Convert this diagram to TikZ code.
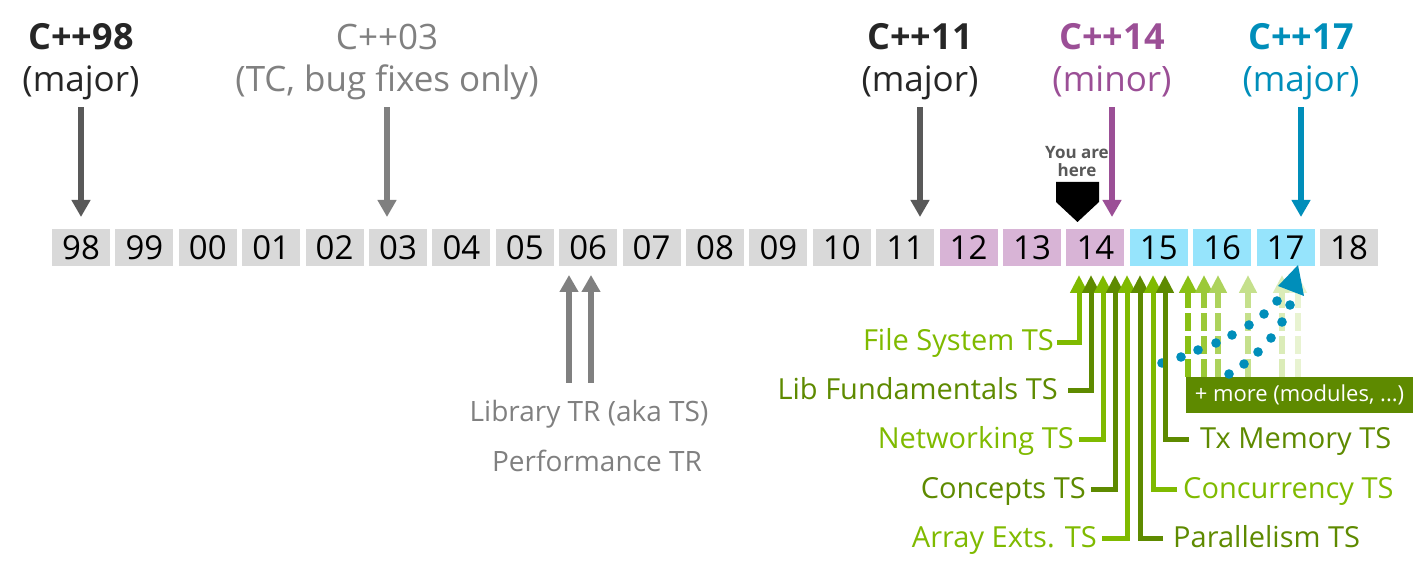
\documentclass[tikz,border=0pt]{standalone}
\usepackage{fontspec}
\setmainfont{Open Sans}
\usetikzlibrary{arrows.meta}
\definecolor{dgray}{RGB}{89,89,89}
\definecolor{mgray}{RGB}{128,128,128}
\definecolor{txtblack}{RGB}{38,38,38}
\definecolor{boxgray}{RGB}{217,217,217}
\definecolor{boxpink}{RGB}{216,180,214}
\definecolor{boxcyan}{RGB}{150,228,252}
\definecolor{purp}{RGB}{155,79,150}
\definecolor{cblue}{RGB}{0,142,186}
\definecolor{lgreen}{RGB}{127,186,0}
\definecolor{dgreen}{RGB}{94,138,0}
\begin{document}
\begin{tikzpicture}[x=1pt,y=-1pt,
  hdr/.style={font=\fontsize{35}{40}\selectfont, anchor=base, inner sep=0pt, text depth=9pt},
  hdrb/.style={hdr, font=\fontsize{36}{40}\selectfont\bfseries},
  yr/.style={minimum width=58pt, minimum height=37pt, inner sep=0pt,
    font=\fontsize{33}{36}\selectfont, text height=24pt, text depth=0pt},
  bigarrow/.style={line width=6pt, -{Triangle[length=17pt,width=18pt]}},
  ts/.style={font=\fontsize{29}{32}\selectfont, inner sep=0pt, text height=22pt, text depth=4pt},
  tsarrow/.style={line width=5pt, -{Triangle[length=18pt,width=17pt]}},
  dasharrow/.style={line width=6pt, dash pattern=on 18pt off 5pt, -{Triangle[length=18pt,width=17pt]}},
  blob/.style={fill=cblue},
]
\useasboundingbox (0,0) rectangle (1419,577);

% year boxes
\foreach \lab [count=\i from 0] in {98,99,00,01,02,03,04,05,06,07,08,09,10,11,12,13,14,15,16,17,18} {
  \ifnum\i<14 \def\fc{boxgray}\else\ifnum\i<17 \def\fc{boxpink}\else\ifnum\i<20 \def\fc{boxcyan}\else\def\fc{boxgray}\fi\fi\fi
  \node[yr, fill=\fc] (b\lab) at ({81+63.4*\i},247.5) {\lab};
}

% headers
\node[hdrb, text=txtblack] (c98) at (81,50) {C++98};
\node[hdr, text=txtblack] (m98) at (81,92) {(major)};
\node[hdr, text=mgray] (c03) at (387,50) {C++03};
\node[hdr, text=mgray] (m03) at (387,92) {(TC, bug fixes only)};
\node[hdrb, text=txtblack] (c11) at (920,50) {C++11};
\node[hdr, text=txtblack] (m11) at (920,92) {(major)};
\node[hdrb, text=purp] (c14) at (1112,50) {C++14};
\node[hdr, text=purp] (m14) at (1112,92) {(minor)};
\node[hdrb, text=cblue] (c17) at (1301,50) {C++17};
\node[hdr, text=cblue] (m17) at (1301,92) {(major)};

\coordinate (e98) at (81,217);
\coordinate (e03) at (387,217);
\coordinate (e11) at (920,217);
\coordinate (e14) at (1112,217);
\coordinate (e17) at (1301,217);

% you are here
\node[font=\fontsize{17}{18}\selectfont\bfseries, text=dgray, align=center, inner sep=0pt] (yah) at (1077,162) {You are\\here};
\fill[black] (1056,182) -- (1099,182) -- (1099,202) -- (1077.5,222) -- (1056,202) -- cycle;

\draw[bigarrow, dgray, shorten <=6pt] (m98.south) -- (e98);
\draw[bigarrow, mgray, shorten <=6pt] (m03.south) -- (e03);
\draw[bigarrow, dgray, shorten <=6pt] (m11.south) -- (e11);
\draw[bigarrow, purp, shorten <=6pt] (m14.south) -- (e14);
\draw[bigarrow, cblue, shorten <=6pt] (m17.south) -- (e17);

% library TR
\node[font=\fontsize{28}{30}\selectfont, text=mgray, anchor=base, inner sep=0pt] (lib) at (589,421) {Library TR (aka TS)};
\node[font=\fontsize{28}{30}\selectfont, text=mgray, anchor=base, inner sep=0pt] (perf) at (597,471) {Performance TR};
\coordinate (la1) at (569,275);
\coordinate (la2) at (591,275);
\draw[bigarrow, mgray, shorten <=17pt] (la1 |- lib.north) -- (la1);
\draw[bigarrow, mgray, shorten <=17pt] (la2 |- lib.north) -- (la2);

% more box
\node[fill=dgreen, text=white, font=\fontsize{22}{24}\selectfont, minimum width=227pt, minimum height=36pt, inner sep=0pt] (more) at (1299.5,395) {+ more (modules, ...)};

% dashed future arrows
\coordinate (d1) at (1188,275);
\coordinate (d2) at (1204,275);
\coordinate (d3) at (1218,275);
\coordinate (d4) at (1248,275);
\coordinate (d5) at (1282,275);
\coordinate (d6) at (1298,275);
\draw[dasharrow, lgreen!92!white] (d1 |- more.north) -- (d1);
\draw[dasharrow, lgreen!78!white] (d2 |- more.north) -- (d2);
\draw[dasharrow, lgreen!64!white] (d3 |- more.north) -- (d3);
\draw[dasharrow, lgreen!45!white] (d4 |- more.north) -- (d4);
\draw[dasharrow, lgreen!28!white] (d5 |- more.north) -- (d5);
\draw[dasharrow, lgreen!18!white] (d6 |- more.north) -- (d6);

% blue dotted flows
\foreach \p in {(1162,363),(1181,357),(1198,350),(1216,343),(1232,335),(1249,325),(1264,314),(1277,301),
                (1229,374),(1244,364),(1258,352),(1271,338),(1282,322),(1290,305)} {
  \fill[blob] \p circle (4.8pt);
}
\fill[cblue] (1278,286) -- (1298,265) -- (1304,296) -- cycle;

% TS labels and arrows
\node[ts, text=lgreen, anchor=east] (fs) at (1054,342) {File System TS};
\node[ts, text=dgreen, anchor=east] (lf) at (1058,390) {Lib Fundamentals TS};
\node[ts, text=lgreen, anchor=east] (nw) at (1074,439) {Networking TS};
\node[ts, text=dgreen, anchor=east] (cp) at (1086,489) {Concepts TS};
\node[ts, text=lgreen, anchor=east] (ae) at (1097,538) {Array Exts. TS};
\node[ts, text=dgreen, anchor=west] (pl) at (1173,538) {Parallelism TS};
\node[ts, text=lgreen, anchor=west] (cc) at (1183,489) {Concurrency TS};
\node[ts, text=dgreen, anchor=west] (tx) at (1200,439) {Tx Memory TS};

\coordinate (t1) at (1079,275);
\coordinate (t2) at (1091,275);
\coordinate (t3) at (1103,275);
\coordinate (t4) at (1115,275);
\coordinate (t5) at (1127,275);
\coordinate (t6) at (1140,275);
\coordinate (t7) at (1153,275);
\coordinate (t8) at (1165,275);

\draw[tsarrow, lgreen] ([xshift=3pt]fs.east) -| (t1);
\draw[tsarrow, dgreen] ([xshift=10pt]lf.east) -| (t2);
\draw[tsarrow, lgreen] ([xshift=5pt]nw.east) -| (t3);
\draw[tsarrow, dgreen] ([xshift=5pt]cp.east) -| (t4);
\draw[tsarrow, lgreen] ([xshift=5pt]ae.east) -| (t5);
\draw[tsarrow, dgreen] ([xshift=-10pt]pl.west) -| (t6);
\draw[tsarrow, lgreen] ([xshift=-6pt]cc.west) -| (t7);
\draw[tsarrow, dgreen] ([xshift=-11pt]tx.west) -| (t8);
\end{tikzpicture}
\end{document}
